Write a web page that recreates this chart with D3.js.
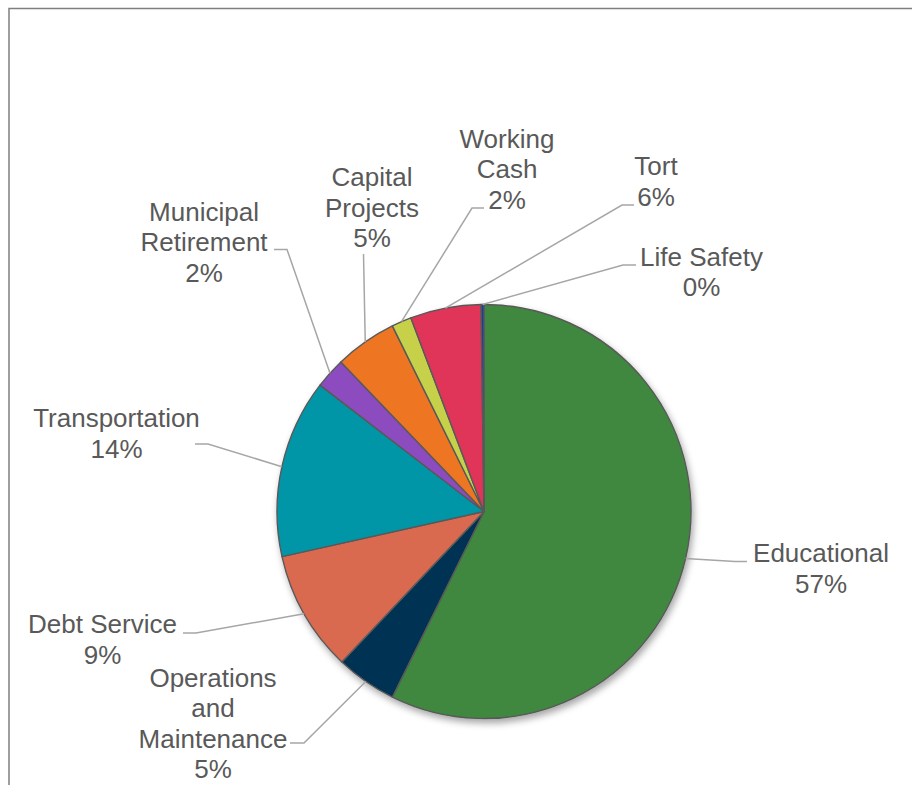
<!DOCTYPE html>
<html>
<head>
<meta charset="utf-8">
<script src="https://cdn.jsdelivr.net/npm/d3@7"></script>
<style>
  html, body { margin: 0; padding: 0; background: #fff; }
  svg { display: block; }
  text { font-family: "Liberation Sans", Arial, sans-serif; }
</style>
</head>
<body>
<svg id="chart" width="912" height="785"></svg>
<script>
// Fund categories, in drawing order (clockwise from 12 o'clock)
const categories = [
  "Educational",
  "Operations and Maintenance",
  "Debt Service",
  "Transportation",
  "Municipal Retirement",
  "Capital Projects",
  "Working Cash",
  "Tort",
  "Life Safety"
];

// Share of total (percent)
const shares = [57.30, 4.75, 9.45, 13.95, 2.40, 4.85, 1.55, 5.52, 0.23];

// Slice colours
const sliceColors = [
  "#40873F", "#003153", "#D9694F", "#0096A8", "#8C4BBE",
  "#EE7623", "#C6D04A", "#E03558", "#1F3A9F"
];

// Label placement: text centre x, first baseline y, leader elbow and leader end
const labelLayout = [
  { cx: 821,   y: 562,   elbow: [735, 561.5], end: [747, 561.5] },
  { cx: 213,   y: 686.5, elbow: [304, 743],   end: [290, 743] },
  { cx: 102.5, y: 633,   elbow: [196, 633],   end: [183, 633] },
  { cx: 116.5, y: 427,   elbow: [208, 444],   end: [195, 444] },
  { cx: 204,   y: 220.5, elbow: [287, 249.5], end: [274, 249.5] },
  { cx: 372,   y: 186,   elbow: [363.5, 254], end: [363.5, 254] },
  { cx: 507,   y: 147.5, elbow: [472, 208],   end: [484, 208] },
  { cx: 656,   y: 175,   elbow: [622, 205],   end: [634, 205] },
  { cx: 701.5, y: 265.5, elbow: [623, 265],   end: [636, 265] }
];

const width = 912, height = 785;
const cx = 484, cy = 511.5, radius = 207;
const lineGap = 30.5;

const svg = d3.select("#chart");

// Drop shadow under the pie
const defs = svg.append("defs");
const shadow = defs.append("filter")
  .attr("id", "pieShadow")
  .attr("x", "-20%").attr("y", "-20%")
  .attr("width", "140%").attr("height", "140%");
shadow.append("feDropShadow")
  .attr("dx", 2).attr("dy", 4)
  .attr("stdDeviation", 3.5)
  .attr("flood-color", "#000")
  .attr("flood-opacity", 0.35);

// Chart frame (left and top edges visible)
svg.append("path")
  .attr("d", `M9,${height} V8.5 H${width}`)
  .attr("fill", "none")
  .attr("stroke", "#7F7F7F")
  .attr("stroke-width", 1.5);

const data = categories.map((name, i) => ({ name, value: shares[i], color: sliceColors[i] }));
const total = d3.sum(shares);

const pie = d3.pie()
  .sort(null)
  .value(d => d.value)
  .startAngle(0)
  .endAngle(2 * Math.PI);

const arcs = pie(data);

const arc = d3.arc().innerRadius(0).outerRadius(radius);
const edgeArc = d3.arc().innerRadius(radius).outerRadius(radius);

const g = svg.append("g").attr("transform", `translate(${cx},${cy})`);

g.append("g")
  .attr("filter", "url(#pieShadow)")
  .selectAll("path")
  .data(arcs)
  .join("path")
  .attr("d", arc)
  .attr("fill", d => d.data.color)
  .attr("stroke", "#595959")
  .attr("stroke-width", 1.4)
  .attr("stroke-linejoin", "round");

// Leader lines from slice edge to label
const pct = d3.format(".0%");
const leaders = svg.append("g");
arcs.forEach((d, i) => {
  const L = labelLayout[i];
  const [ex, ey] = edgeArc.centroid(d);
  const pts = [[cx + ex, cy + ey], L.elbow, L.end];
  leaders.append("path")
    .attr("d", d3.line()(pts))
    .attr("fill", "none")
    .attr("stroke", "#A6A6A6")
    .attr("stroke-width", 1.5);
});

// Labels: category name (one word per line when wrapped) and rounded share
const labels = svg.append("g")
  .attr("fill", "#595959")
  .attr("font-size", 26)
  .attr("text-anchor", "middle");

arcs.forEach((d, i) => {
  const L = labelLayout[i];
  const name = d.data.name;
  const words = (name === "Debt Service" || name === "Life Safety") ? [name] : name.split(" ");
  const lines = words.concat([pct(d.data.value / total)]);
  const t = labels.append("text").attr("x", L.cx).attr("y", L.y);
  lines.forEach((ln, k) => {
    t.append("tspan")
      .attr("x", L.cx)
      .attr("y", L.y + k * lineGap)
      .text(ln);
  });
});
</script>
</body>
</html>
